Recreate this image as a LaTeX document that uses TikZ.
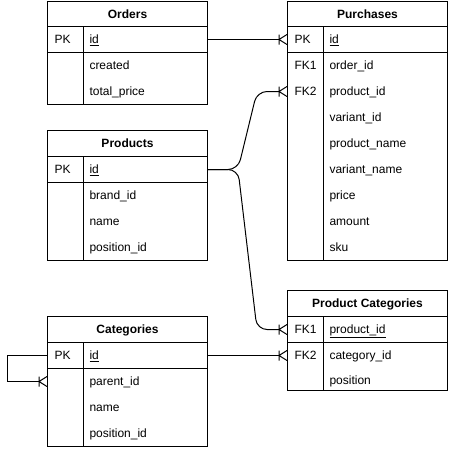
\documentclass[tikz,border=0pt]{standalone}
\usepackage{fontspec}
\setmainfont{Liberation Sans}
\usetikzlibrary{calc}
\begin{document}
\begin{tikzpicture}[x=1pt,y=-1pt,line width=1pt,
  font=\fontsize{12}{14}\selectfont,
  titlebox/.style={draw, anchor=north west, minimum width=160pt, minimum height=26pt, inner sep=0pt,
     font=\fontsize{12}{14}\selectfont\bfseries, text height=10.5pt, text depth=2pt},
  rowbox/.style={draw, anchor=north west, minimum width=160pt, inner sep=0pt},
  keycell/.style={anchor=north west, minimum height=26pt, text width=22pt, inner xsep=7pt, inner ysep=0pt,
     align=left, text height=10.5pt, text depth=2pt},
  fieldcell/.style={anchor=west, inner xsep=6pt, inner ysep=0pt, text height=10.5pt, text depth=2pt},
  crow/.pic={\draw[line width=1pt] (-8,-5) -- (-8,5) (-8,0) -- (0,-5) (-8,0) -- (0,5);},
  link/.style={line width=1pt, shorten >=8pt}
]
\useasboundingbox (0,0) rectangle (448,450);

% ---------------- Orders ----------------
\node[titlebox, minimum height=25pt] (ordT) at (47,1) {Orders};
\node[rowbox, minimum height=26pt] (ordPK) at (47,26) {};
\node[rowbox, minimum height=52pt] (ordB) at (47,52) {};
\draw (83,26) -- (83,104);
\node[keycell] (ordK) at (47,26) {PK};
\node[fieldcell] (ordF1) at (83,39) {\underline{id}};
\node[fieldcell] (ordF2) at (83,65) {created};
\node[fieldcell] (ordF3) at (83,91) {total\_price};

% ---------------- Purchases ----------------
\node[titlebox, minimum height=25pt] (purT) at (287,1) {Purchases};
\node[rowbox, minimum height=26pt] (purPK) at (287,26) {};
\node[rowbox, minimum height=208pt] (purB) at (287,52) {};
\draw (323,26) -- (323,260);
\node[keycell] (purK) at (287,26) {PK};
\node[keycell] (purK1) at (287,52) {FK1};
\node[keycell] (purK2) at (287,78) {FK2};
\node[fieldcell] (purF0) at (323,39) {\underline{id}};
\node[fieldcell] (purF1) at (323,65) {order\_id};
\node[fieldcell] (purF2) at (323,91) {product\_id};
\node[fieldcell] (purF3) at (323,117) {variant\_id};
\node[fieldcell] (purF4) at (323,143) {product\_name};
\node[fieldcell] (purF5) at (323,169) {variant\_name};
\node[fieldcell] (purF6) at (323,195) {price};
\node[fieldcell] (purF7) at (323,221) {amount};
\node[fieldcell] (purF8) at (323,247) {sku};

% ---------------- Products ----------------
\node[titlebox] (prodT) at (47,130) {Products};
\node[rowbox, minimum height=26pt] (prodPK) at (47,156) {};
\node[rowbox, minimum height=78pt] (prodB) at (47,182) {};
\draw (83,156) -- (83,260);
\node[keycell] (prodK) at (47,156) {PK};
\node[fieldcell] (prodF0) at (83,169) {\underline{id}};
\node[fieldcell] (prodF1) at (83,195) {brand\_id};
\node[fieldcell] (prodF2) at (83,221) {name};
\node[fieldcell] (prodF3) at (83,247) {position\_id};

% ---------------- Product Categories ----------------
\node[titlebox] (pcT) at (287,290) {Product Categories};
\node[rowbox, minimum height=26pt] (pcPK) at (287,316) {};
\node[rowbox, minimum height=48pt] (pcB) at (287,342) {};
\draw (323,316) -- (323,390);
\node[keycell] (pcK1) at (287,316) {FK1};
\node[keycell] (pcK2) at (287,342) {FK2};
\node[fieldcell] (pcF1) at (323,329) {\underline{product\_id}};
\node[fieldcell] (pcF2) at (323,355) {category\_id};
\node[fieldcell] (pcF3) at (323,380) {position};

% ---------------- Categories ----------------
\node[titlebox] (catT) at (47,316) {Categories};
\node[rowbox, minimum height=26pt] (catPK) at (47,342) {};
\node[rowbox, minimum height=78pt] (catB) at (47,368) {};
\draw (83,342) -- (83,446);
\node[keycell] (catK) at (47,342) {PK};
\node[keycell] (catK2) at (47,368) {};
\node[fieldcell] (catF0) at (83,355) {\underline{id}};
\node[fieldcell] (catF1) at (83,381) {parent\_id};
\node[fieldcell] (catF2) at (83,407) {name};
\node[fieldcell] (catF3) at (83,433) {position\_id};

% ---------------- Connectors ----------------
\draw[link] (ordPK.east) -- (purK.west);
\pic at (purK.west) {crow};

\draw[link, rounded corners=10pt] (prodPK.east) -- ++(30,0) -- ($(purK2.west)+(-30,0)$) -- (purK2.west);
\pic at (purK2.west) {crow};

\draw[link, rounded corners=10pt] (prodPK.east) -- ++(30,0) -- ($(pcK1.west)+(-30,0)$) -- (pcK1.west);
\pic at (pcK1.west) {crow};

\draw[link] (catPK.east) -- (pcK2.west);
\pic at (pcK2.west) {crow};

\draw[link] (catK.west) -- ++(-40,0) |- (catK2.west);
\pic at (catK2.west) {crow};
\end{tikzpicture}
\end{document}
